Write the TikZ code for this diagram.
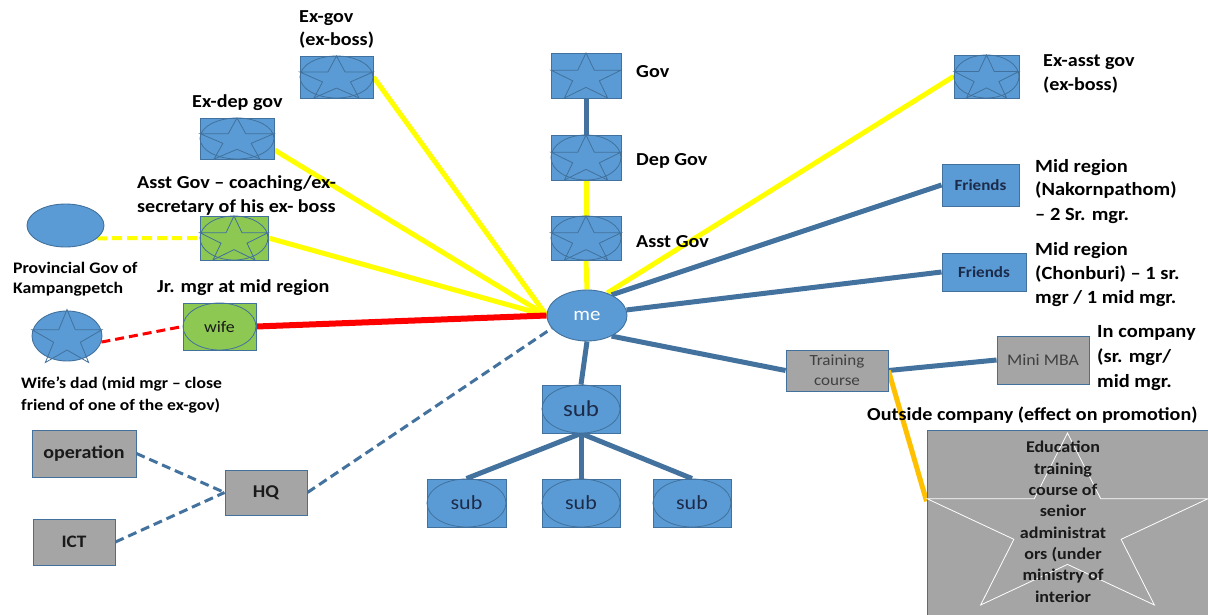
\documentclass[tikz,border=0pt]{standalone}
\usepackage{fontspec}
\setmainfont{Carlito}[FakeStretch=1.1]
\usetikzlibrary{backgrounds,calc,shapes.geometric}
\definecolor{bfill}{HTML}{5B9BD5}
\definecolor{bline}{HTML}{41719C}
\definecolor{conn}{HTML}{44729E}
\definecolor{gfill}{HTML}{8DC852}
\definecolor{grfill}{HTML}{A5A5A5}
\definecolor{yel}{HTML}{FFFF00}
\definecolor{org}{HTML}{FFC000}
\definecolor{navy}{HTML}{1C2B4A}
\definecolor{dtext}{HTML}{1A1A1A}
\newcommand\ostar[4][bline]{\draw[#1,line width=0.8pt,line join=miter,shift={(#2.center)},xscale=#3/1.902,yscale=-#4/1.809]
 (0,0.9045) -- (0.2245,0.2135) -- (0.951,0.2135) -- (0.363,-0.2135) -- (0.588,-0.9045) -- (0,-0.4775)
 -- (-0.588,-0.9045) -- (-0.363,-0.2135) -- (-0.951,0.2135) -- (-0.2245,0.2135) -- cycle;}
\newcommand\oell[3]{\draw[bline,line width=0.8pt] (#1.center) ellipse [x radius={#2*0.5pt}, y radius={#3*0.5pt}];}
\tikzset{
 bbox/.style={draw=bline,line width=0.9pt,fill=bfill,inner sep=0pt},
 gbox/.style={draw=bline,line width=0.9pt,fill=gfill,inner sep=0pt},
 grbox/.style={draw=bline,line width=0.9pt,fill=grfill,inner sep=0pt},
 bell/.style={draw=bline,line width=0.9pt,fill=bfill,ellipse,inner sep=0pt},
 lab/.style={font=\bfseries\fontsize{18.3}{23}\selectfont,inner sep=0pt,align=left,anchor=base west},
 labR/.style={font=\bfseries\fontsize{18.6}{24}\selectfont,inner sep=0pt,align=left,anchor=base west},
 labS/.style={font=\bfseries\fontsize{16}{21}\selectfont,inner sep=0pt,align=left,anchor=base west},
 yline/.style={draw=yel,line width=5pt},
 bl/.style={draw=conn,line width=5pt},
 dashb/.style={draw=conn,line width=3pt,dash pattern=on 9pt off 5pt},
}
\begin{document}
\begin{tikzpicture}[x=1pt,y=-1pt]
\useasboundingbox (0,0) rectangle (1208,615);
% nodes
\node[bbox,minimum width=73,minimum height=42] (exgov) at (336.5,77) {};
\oell{exgov}{73}{42}\ostar{exgov}{73}{42}
\node[bbox,minimum width=74,minimum height=41] (exdep) at (237,138.5) {};
\oell{exdep}{74}{41}\ostar{exdep}{74}{41}
\node[gbox,minimum width=68,minimum height=44] (asstg) at (234,238) {};
\oell{asstg}{68}{44}\ostar{asstg}{68}{44}
\node[bell,minimum width=77,minimum height=43] (prov) at (65.5,225.5) {};
\node[gbox,minimum width=73,minimum height=47] (wife) at (219.5,326.5) {};
\oell{wife}{73}{47}
\node[font=\fontsize{16.2}{18}\selectfont,text=dtext] at (wife.center) {wife};
\node[bell,minimum width=70,minimum height=50] (dad) at (67,336) {};
\ostar{dad}{70}{53}
\node[grbox,minimum width=104,minimum height=47,font=\bfseries\fontsize{18.2}{20}\selectfont,text=dtext] (oper) at (84,453.5) {operation};
\node[grbox,minimum width=82,minimum height=46,font=\bfseries\fontsize{17.5}{20}\selectfont,text=dtext] (ict) at (74,542) {ICT};
\node[grbox,minimum width=82,minimum height=45,font=\bfseries\fontsize{18}{20}\selectfont,text=dtext] (hq) at (266,492.5) {HQ};
\node[bell,minimum width=80,minimum height=51,font=\fontsize{19}{20}\selectfont,text=white] (me) at (587,315.5) {me};
\node[bbox,minimum width=78,minimum height=48] (sub) at (581,409) {};
\oell{sub}{78}{48}
\node[font=\fontsize{22.7}{24}\selectfont,text=navy] at (sub.center) {sub};
\node[bbox,minimum width=79,minimum height=48] (sub1) at (466.5,503) {};
\oell{sub1}{79}{48}
\node[font=\fontsize{20}{22}\selectfont,text=navy] at (sub1.center) {sub};
\node[bbox,minimum width=78,minimum height=48] (sub2) at (581,503) {};
\oell{sub2}{78}{48}
\node[font=\fontsize{20}{22}\selectfont,text=navy] at (sub2.center) {sub};
\node[bbox,minimum width=78,minimum height=48] (sub3) at (692,503) {};
\oell{sub3}{78}{48}
\node[font=\fontsize{20}{22}\selectfont,text=navy] at (sub3.center) {sub};
\node[bbox,minimum width=70,minimum height=45] (gov) at (586,75.5) {};
\ostar{gov}{70}{45}
\node[bbox,minimum width=70,minimum height=45] (depgov) at (586,157.5) {};
\oell{depgov}{70}{45}\ostar{depgov}{70}{45}
\node[bbox,minimum width=70,minimum height=44] (asstgov) at (586,238) {};
\oell{asstgov}{70}{44}\ostar{asstgov}{70}{44}
\node[bbox,minimum width=65,minimum height=43] (exasst) at (986.5,76.5) {};
\oell{exasst}{65}{43}\ostar{exasst}{65}{43}
\node[bbox,minimum width=77,minimum height=42,font=\bfseries\fontsize{15.5}{17}\selectfont,text=navy] (fr1) at (980.5,185) {Friends};
\node[bbox,minimum width=84,minimum height=38,font=\bfseries\fontsize{15.5}{17}\selectfont,text=navy] (fr2) at (984,272) {Friends};
\node[grbox,minimum width=102,minimum height=41,align=center,font=\fontsize{15.5}{20}\selectfont,text=black!75] (train) at (837,370.5) {Training\\course};
\node[grbox,minimum width=92,minimum height=48,font=\fontsize{16.2}{18}\selectfont,text=black!75] (mba) at (1043,360) {Mini MBA};
\node[grbox,minimum width=281,minimum height=187] (edu) at (1067.5,523.5) {};
\coordinate (edustar) at (1067.5,519);
\ostar[white]{edustar}{281}{172}
\node[font=\bfseries\fontsize{16.4}{21.3}\selectfont,text=dtext,align=center,inner sep=0pt,anchor=base] (edutext) at (1063,602) {Education\\training\\course of\\senior\\administrat\\ors (under\\ministry of\\interior};
% labels (anchored at the baseline of their last line)
\node[lab] (l1) at (299,46) {Ex-gov\\(ex-boss)};
\node[lab] (l2) at (192,108) {Ex-dep gov};
\node[lab,font=\bfseries\fontsize{18.3}{24}\selectfont] (l3) at (137,212) {Asst Gov – coaching/ex-\\secretary of his ex- boss};
\node[labS,font=\bfseries\fontsize{16.1}{20}\selectfont] (l4) at (13,293) {Provincial Gov of\\Kampangpetch};
\node[lab] (l5) at (157,292) {Jr. mgr at mid region};
\node[labS,font=\bfseries\fontsize{16}{22}\selectfont] (l6) at (21,410) {Wife’s dad (mid mgr – close\\friend of one of the ex-gov)};
\node[lab] (l7) at (636,78) {Gov};
\node[lab] (l8) at (636,166) {Dep Gov};
\node[lab] (l9) at (636,247) {Asst Gov};
\node[lab,font=\bfseries\fontsize{18.3}{24}\selectfont] (l10) at (1043,91) {Ex-asst gov\\(ex-boss)};
\node[labR] (l11) at (1035,220) {Mid region\\(Nakornpathom)\\– 2 Sr. mgr.};
\node[labR] (l12) at (1035,303) {Mid region\\(Chonburi) – 1 sr.\\mgr / 1 mid mgr.};
\node[labR,font=\bfseries\fontsize{18.6}{25}\selectfont] (l13) at (1097,387) {In company\\(sr. mgr/\\mid mgr.};
\node[lab] (l14) at (867,420) {Outside company (effect on promotion)};
% connectors
\begin{pgfonlayer}{background}
\fill[white] (0,0) rectangle (1208,615);
\draw[yline] (exgov.east) -- (me.west);
\draw[yline] (exdep.-17) -- (me.west);
\draw[yline] (asstg.east) -- (me.west);
\draw[yline] (exasst.west) -- (me.48);
\draw[yline] (depgov.south) -- (asstgov.north);
\draw[yline] (asstgov.south) -- (me.north);
\draw[bl] (gov.south) -- (depgov.north);
\draw[draw=yel,line width=4pt,dash pattern=on 10pt off 5pt] (prov.-22) -- (asstg.west);
\draw[draw=red,line width=3pt,dash pattern=on 9pt off 5pt] (dad.-10) -- (wife.west);
\draw[draw=red,line width=6pt] (wife.east) -- (me.west);
\draw[dashb] (oper.east) -- (hq.west);
\draw[dashb] (ict.east) -- (hq.west);
\draw[dashb] (hq.east) -- (me.200);
\draw[bl] (me.40) -- (fr1.west);
\draw[bl] (me.8) -- (fr2.west);
\draw[bl] (me.-40) -- (train.west);
\draw[bl] (train.east) -- (mba.west);
\draw[draw=org,line width=5pt] (train.east) -- (edu.171);
\draw[bl] (me.south) -- (sub.north);
\draw[bl] (sub.south) -- (sub1.north);
\draw[bl] (sub.south) -- (sub2.north);
\draw[bl] (sub.south) -- (sub3.north);
\end{pgfonlayer}
\end{tikzpicture}
\end{document}
